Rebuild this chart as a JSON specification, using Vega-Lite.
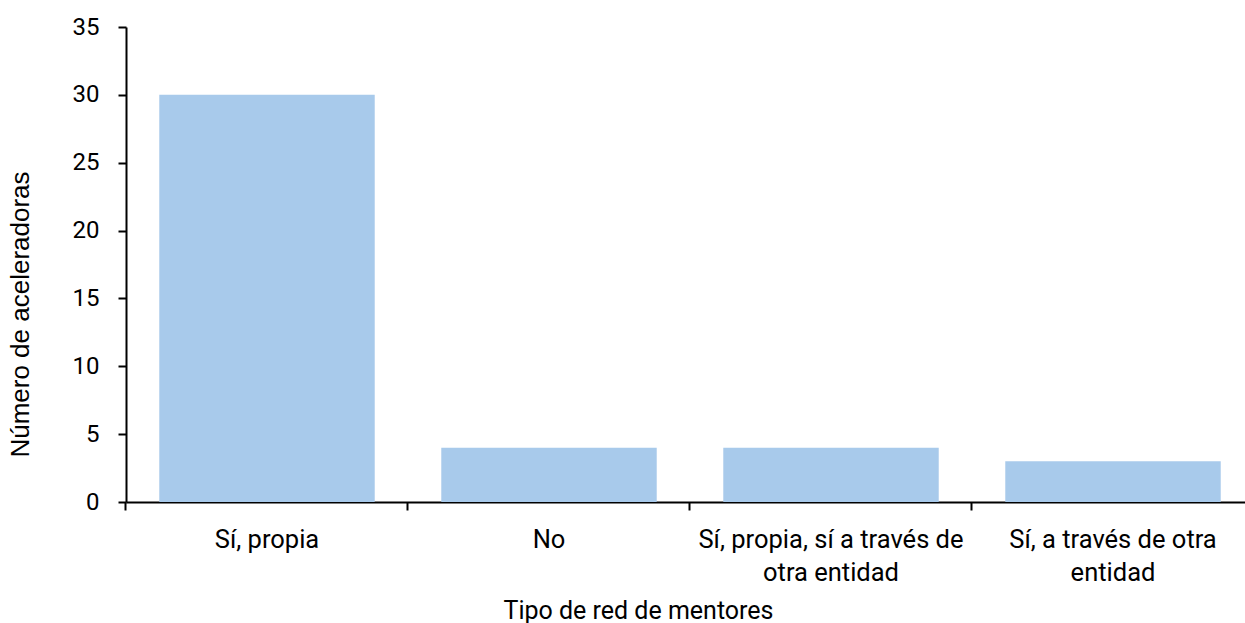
{
  "$schema": "https://vega.github.io/schema/vega-lite/v6.json",
  "autosize": "none",
  "width": 1119,
  "height": 475,
  "padding": {"left": 126, "top": 27, "right": 0, "bottom": 121},
  "background": "white",
  "config": {"view": {"stroke": null}},
  "data": {"values": [
    {"tipo": "Sí, propia", "n": 30},
    {"tipo": "No", "n": 4},
    {"tipo": "Sí, propia, sí a través de|otra entidad", "n": 4},
    {"tipo": "Sí, a través de otra|entidad", "n": 3}
  ]},
  "mark": {"type": "bar", "color": "#a8caeb"},
  "encoding": {
    "x": {
      "field": "tipo", "type": "nominal", "sort": null,
      "scale": {"range": [0, 1128], "paddingInner": 0.236, "paddingOuter": 0.118},
      "axis": {
        "title": "Tipo de red de mentores",
        "titleFont": "Roboto", "titleFontSize": 25, "titleFontWeight": "normal", "titleColor": "black",
        "titleX": 512, "titleY": 116, "titleBaseline": "alphabetic", "titleAlign": "center",
        "labelExpr": "split(datum.value, '|')",
        "labelFont": "Roboto", "labelFontSize": 25.5, "labelColor": "black",
        "labelAngle": 0, "labelPadding": 17, "labelLineHeight": 33, "labelBaseline": "top",
        "bandPosition": -0.1545,
        "tickSize": 8, "tickWidth": 2, "tickColor": "black",
        "domainColor": "black", "domainWidth": 2,
        "grid": false, "labelOverlap": false, "labelLimit": 0
      }
    },
    "y": {
      "field": "n", "type": "quantitative",
      "scale": {"domain": [0, 35], "nice": false},
      "axis": {
        "title": "Número de aceleradoras",
        "titleFont": "Liberation Sans", "titleFontSize": 26, "titleFontWeight": "normal", "titleColor": "black",
        "titleX": -106, "titleY": 287, "titleAngle": -90, "titleBaseline": "middle", "titleAlign": "center",
        "values": [0, 5, 10, 15, 20, 25, 30, 35],
        "labelFont": "Roboto", "labelFontSize": 24, "labelColor": "black", "labelPadding": 19,
        "tickSize": 8, "tickWidth": 2, "tickColor": "black",
        "domainColor": "black", "domainWidth": 2,
        "grid": false
      }
    }
  }
}
